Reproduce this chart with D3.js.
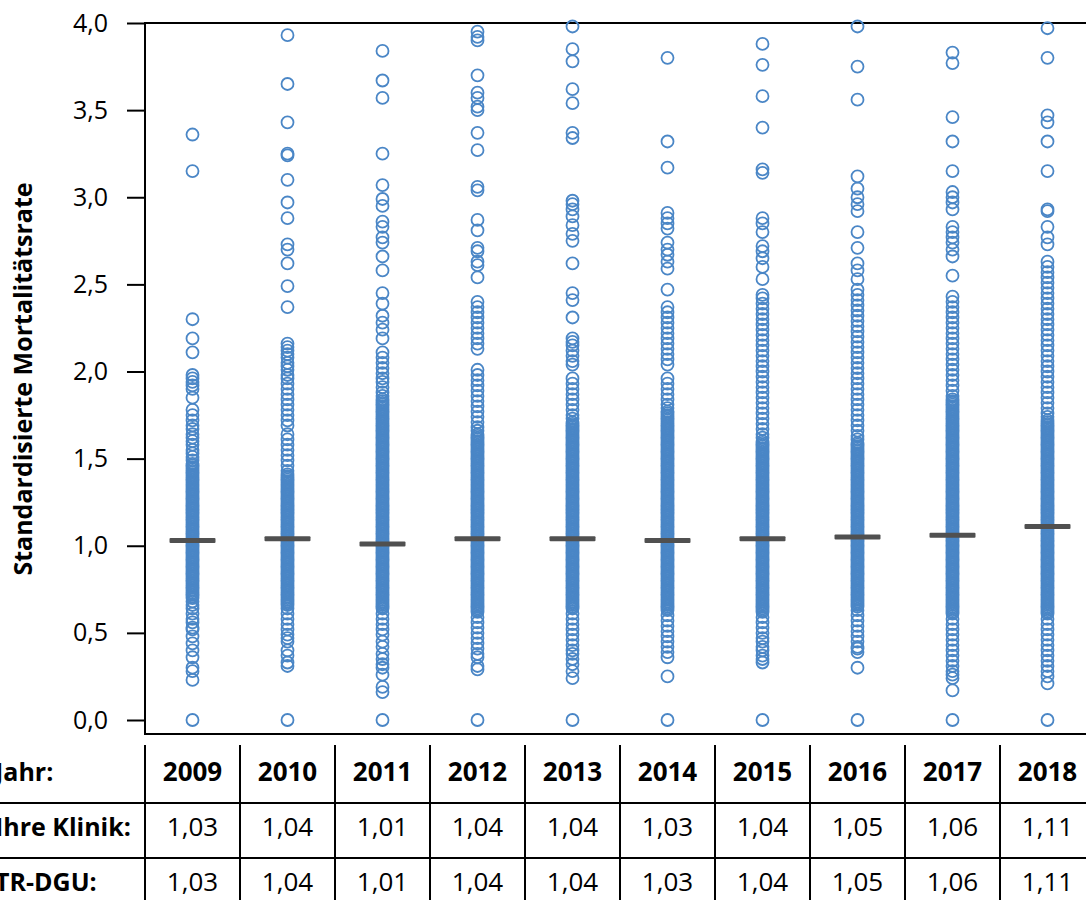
<!DOCTYPE html>
<html>
<head>
<meta charset="utf-8">
<script src="https://cdn.jsdelivr.net/npm/d3@7"></script>
<style>
  body { margin: 0; background: #fff; }
  svg { display: block; font-family: "Open Sans", sans-serif; }
</style>
</head>
<body>
<script>
// years and per-year SMR values
const years = ["2009", "2010", "2011", "2012", "2013", "2014", "2015", "2016", "2017", "2018"];
const klinik = [1.03, 1.04, 1.01, 1.04, 1.04, 1.03, 1.04, 1.05, 1.06, 1.11];
const trdgu = [1.03, 1.04, 1.01, 1.04, 1.04, 1.03, 1.04, 1.05, 1.06, 1.11];
const yTicks = [0, 0.5, 1, 1.5, 2, 2.5, 3, 3.5, 4];

const smr2009 = [3.36, 3.15, 2.30, 2.19, 2.11, 1.98, 1.96, 1.94, 1.92, 1.90, 1.85, 1.78, 1.75, 1.72, 1.69, 1.67, 1.64, 1.62, 1.60, 1.58, 1.55, 1.53, 1.51, 1.49, 1.47,
  1.46, 1.45, 1.44, 1.43, 1.42, 1.41, 1.40, 1.39, 1.38, 1.37, 1.36, 1.35, 1.34, 1.33, 1.32, 1.31, 1.30, 1.29, 1.28, 1.27, 1.26, 1.25, 1.24, 1.23, 1.22, 1.21, 1.20, 1.19, 1.18, 1.17, 1.16, 1.15, 1.14, 1.13, 1.12, 1.11, 1.10, 1.09, 1.08, 1.07, 1.06, 1.05, 1.04, 1.03, 1.02, 1.01, 1.00, 0.99, 0.98, 0.97, 0.96, 0.95, 0.94, 0.93, 0.92, 0.91, 0.90, 0.89, 0.88, 0.87, 0.86, 0.85, 0.84, 0.83, 0.82, 0.81, 0.80, 0.79, 0.78, 0.77, 0.76, 0.75, 0.74, 0.73, 0.72, 0.71, 0.70,
  0.68, 0.66, 0.64, 0.61, 0.58, 0.56, 0.53, 0.52, 0.48, 0.44, 0.40, 0.36, 0.30, 0.28, 0.23, 0.0];
const smr2010 = [3.93, 3.65, 3.43, 3.25, 3.24, 3.10, 2.97, 2.88, 2.73, 2.70, 2.62, 2.49, 2.37, 2.16, 2.14, 2.12, 2.10, 2.08, 2.05, 2.03, 2.01, 1.98, 1.96, 1.93, 1.90, 1.87, 1.84, 1.81, 1.78, 1.75, 1.72, 1.69, 1.64, 1.61, 1.58, 1.55, 1.52, 1.49, 1.46, 1.43, 1.41,
  1.40, 1.39, 1.38, 1.37, 1.36, 1.35, 1.34, 1.33, 1.32, 1.31, 1.30, 1.29, 1.28, 1.27, 1.26, 1.25, 1.24, 1.23, 1.22, 1.21, 1.20, 1.19, 1.18, 1.17, 1.16, 1.15, 1.14, 1.13, 1.12, 1.11, 1.10, 1.09, 1.08, 1.07, 1.06, 1.05, 1.04, 1.03, 1.02, 1.01, 1.00, 0.99, 0.98, 0.97, 0.96, 0.95, 0.94, 0.93, 0.92, 0.91, 0.90, 0.89, 0.88, 0.87, 0.86, 0.85, 0.84, 0.83, 0.82, 0.81, 0.80, 0.79, 0.78, 0.77, 0.76, 0.75, 0.74, 0.73, 0.72, 0.71, 0.70, 0.69, 0.68, 0.67, 0.66,
  0.64, 0.61, 0.58, 0.55, 0.52, 0.49, 0.47, 0.45, 0.40, 0.37, 0.33, 0.31, 0.0];
const smr2011 = [3.84, 3.67, 3.57, 3.25, 3.07, 2.99, 2.95, 2.86, 2.83, 2.77, 2.74, 2.66, 2.58, 2.45, 2.39, 2.32, 2.28, 2.24, 2.19, 2.11, 2.08, 2.05, 2.02, 1.99, 1.96, 1.94, 1.91, 1.88, 1.86,
  1.84, 1.83, 1.82, 1.81, 1.80, 1.79, 1.78, 1.77, 1.76, 1.75, 1.74, 1.73, 1.72, 1.71, 1.70, 1.69, 1.68, 1.67, 1.66, 1.65, 1.64, 1.63, 1.62, 1.61, 1.60, 1.59, 1.58, 1.57, 1.56, 1.55, 1.54, 1.53, 1.52, 1.51, 1.50, 1.49, 1.48, 1.47, 1.46, 1.45, 1.44, 1.43, 1.42, 1.41, 1.40, 1.39, 1.38, 1.37, 1.36, 1.35, 1.34, 1.33, 1.32, 1.31, 1.30, 1.29, 1.28, 1.27, 1.26, 1.25, 1.24, 1.23, 1.22, 1.21, 1.20, 1.19, 1.18, 1.17, 1.16, 1.15, 1.14, 1.13, 1.12, 1.11, 1.10, 1.09, 1.08, 1.07, 1.06, 1.05, 1.04, 1.03, 1.02, 1.01, 1.00, 0.99, 0.98, 0.97, 0.96, 0.95, 0.94, 0.93, 0.92, 0.91, 0.90, 0.89, 0.88, 0.87, 0.86, 0.85, 0.84, 0.83, 0.82, 0.81, 0.80, 0.79, 0.78, 0.77, 0.76, 0.75, 0.74, 0.73, 0.72, 0.71, 0.70, 0.69, 0.68, 0.67, 0.66, 0.65, 0.64,
  0.61, 0.58, 0.55, 0.52, 0.49, 0.45, 0.42, 0.38, 0.35, 0.32, 0.30, 0.26, 0.19, 0.16, 0.0];
const smr2012 = [3.95, 3.92, 3.90, 3.70, 3.60, 3.57, 3.52, 3.50, 3.37, 3.27, 3.06, 3.04, 2.87, 2.81, 2.71, 2.69, 2.63, 2.61, 2.54, 2.40, 2.37, 2.34, 2.31, 2.28, 2.25, 2.22, 2.19, 2.16, 2.13, 2.01, 1.98, 1.95, 1.92, 1.89, 1.86, 1.83, 1.80, 1.77, 1.74, 1.71, 1.68, 1.66,
  1.64, 1.63, 1.62, 1.61, 1.60, 1.59, 1.58, 1.57, 1.56, 1.55, 1.54, 1.53, 1.52, 1.51, 1.50, 1.49, 1.48, 1.47, 1.46, 1.45, 1.44, 1.43, 1.42, 1.41, 1.40, 1.39, 1.38, 1.37, 1.36, 1.35, 1.34, 1.33, 1.32, 1.31, 1.30, 1.29, 1.28, 1.27, 1.26, 1.25, 1.24, 1.23, 1.22, 1.21, 1.20, 1.19, 1.18, 1.17, 1.16, 1.15, 1.14, 1.13, 1.12, 1.11, 1.10, 1.09, 1.08, 1.07, 1.06, 1.05, 1.04, 1.03, 1.02, 1.01, 1.00, 0.99, 0.98, 0.97, 0.96, 0.95, 0.94, 0.93, 0.92, 0.91, 0.90, 0.89, 0.88, 0.87, 0.86, 0.85, 0.84, 0.83, 0.82, 0.81, 0.80, 0.79, 0.78, 0.77, 0.76, 0.75, 0.74, 0.73, 0.72, 0.71, 0.70, 0.69, 0.68, 0.67, 0.66, 0.65, 0.64, 0.63, 0.62,
  0.59, 0.56, 0.53, 0.50, 0.47, 0.44, 0.41, 0.38, 0.36, 0.31, 0.29, 0.0];
const smr2013 = [3.98, 3.85, 3.78, 3.62, 3.54, 3.37, 3.34, 2.98, 2.96, 2.93, 2.89, 2.84, 2.79, 2.75, 2.62, 2.45, 2.41, 2.31, 2.19, 2.17, 2.15, 2.12, 2.09, 2.06, 2.04, 1.96, 1.93, 1.90, 1.87, 1.84, 1.81, 1.78, 1.75, 1.73,
  1.71, 1.70, 1.69, 1.68, 1.67, 1.66, 1.65, 1.64, 1.63, 1.62, 1.61, 1.60, 1.59, 1.58, 1.57, 1.56, 1.55, 1.54, 1.53, 1.52, 1.51, 1.50, 1.49, 1.48, 1.47, 1.46, 1.45, 1.44, 1.43, 1.42, 1.41, 1.40, 1.39, 1.38, 1.37, 1.36, 1.35, 1.34, 1.33, 1.32, 1.31, 1.30, 1.29, 1.28, 1.27, 1.26, 1.25, 1.24, 1.23, 1.22, 1.21, 1.20, 1.19, 1.18, 1.17, 1.16, 1.15, 1.14, 1.13, 1.12, 1.11, 1.10, 1.09, 1.08, 1.07, 1.06, 1.05, 1.04, 1.03, 1.02, 1.01, 1.00, 0.99, 0.98, 0.97, 0.96, 0.95, 0.94, 0.93, 0.92, 0.91, 0.90, 0.89, 0.88, 0.87, 0.86, 0.85, 0.84, 0.83, 0.82, 0.81, 0.80, 0.79, 0.78, 0.77, 0.76, 0.75, 0.74, 0.73, 0.72, 0.71, 0.70, 0.69, 0.68, 0.67, 0.66, 0.65, 0.64,
  0.61, 0.58, 0.55, 0.52, 0.49, 0.46, 0.43, 0.40, 0.38, 0.35, 0.32, 0.28, 0.24, 0.0];
const smr2014 = [3.80, 3.32, 3.17, 2.91, 2.88, 2.85, 2.82, 2.74, 2.70, 2.67, 2.63, 2.59, 2.47, 2.37, 2.34, 2.31, 2.28, 2.25, 2.22, 2.19, 2.16, 2.13, 2.10, 2.07, 2.04, 1.96, 1.93, 1.90, 1.87, 1.84, 1.81, 1.79,
  1.77, 1.76, 1.75, 1.74, 1.73, 1.72, 1.71, 1.70, 1.69, 1.68, 1.67, 1.66, 1.65, 1.64, 1.63, 1.62, 1.61, 1.60, 1.59, 1.58, 1.57, 1.56, 1.55, 1.54, 1.53, 1.52, 1.51, 1.50, 1.49, 1.48, 1.47, 1.46, 1.45, 1.44, 1.43, 1.42, 1.41, 1.40, 1.39, 1.38, 1.37, 1.36, 1.35, 1.34, 1.33, 1.32, 1.31, 1.30, 1.29, 1.28, 1.27, 1.26, 1.25, 1.24, 1.23, 1.22, 1.21, 1.20, 1.19, 1.18, 1.17, 1.16, 1.15, 1.14, 1.13, 1.12, 1.11, 1.10, 1.09, 1.08, 1.07, 1.06, 1.05, 1.04, 1.03, 1.02, 1.01, 1.00, 0.99, 0.98, 0.97, 0.96, 0.95, 0.94, 0.93, 0.92, 0.91, 0.90, 0.89, 0.88, 0.87, 0.86, 0.85, 0.84, 0.83, 0.82, 0.81, 0.80, 0.79, 0.78, 0.77, 0.76, 0.75, 0.74, 0.73, 0.72, 0.71, 0.70, 0.69, 0.68, 0.67, 0.66, 0.65, 0.64, 0.63,
  0.60, 0.57, 0.54, 0.51, 0.48, 0.45, 0.42, 0.39, 0.36, 0.25, 0.0];
const smr2015 = [3.88, 3.76, 3.58, 3.40, 3.16, 3.14, 2.88, 2.85, 2.80, 2.72, 2.69, 2.65, 2.60, 2.53, 2.44, 2.42, 2.39, 2.36, 2.33, 2.30, 2.27, 2.24, 2.21, 2.18, 2.15, 2.12, 2.09, 2.06, 2.03, 2.00, 1.97, 1.94, 1.91, 1.88, 1.85, 1.82, 1.79, 1.76, 1.73, 1.70, 1.67, 1.64, 1.62,
  1.60, 1.59, 1.58, 1.57, 1.56, 1.55, 1.54, 1.53, 1.52, 1.51, 1.50, 1.49, 1.48, 1.47, 1.46, 1.45, 1.44, 1.43, 1.42, 1.41, 1.40, 1.39, 1.38, 1.37, 1.36, 1.35, 1.34, 1.33, 1.32, 1.31, 1.30, 1.29, 1.28, 1.27, 1.26, 1.25, 1.24, 1.23, 1.22, 1.21, 1.20, 1.19, 1.18, 1.17, 1.16, 1.15, 1.14, 1.13, 1.12, 1.11, 1.10, 1.09, 1.08, 1.07, 1.06, 1.05, 1.04, 1.03, 1.02, 1.01, 1.00, 0.99, 0.98, 0.97, 0.96, 0.95, 0.94, 0.93, 0.92, 0.91, 0.90, 0.89, 0.88, 0.87, 0.86, 0.85, 0.84, 0.83, 0.82, 0.81, 0.80, 0.79, 0.78, 0.77, 0.76, 0.75, 0.74, 0.73, 0.72, 0.71, 0.70, 0.69, 0.68, 0.67, 0.66, 0.65, 0.64, 0.63, 0.62,
  0.59, 0.56, 0.53, 0.50, 0.47, 0.45, 0.42, 0.40, 0.37, 0.35, 0.33, 0.0];
const smr2016 = [3.98, 3.75, 3.56, 3.12, 3.05, 3.00, 2.96, 2.92, 2.80, 2.71, 2.62, 2.58, 2.53, 2.47, 2.44, 2.41, 2.38, 2.35, 2.32, 2.29, 2.26, 2.23, 2.20, 2.17, 2.14, 2.11, 2.08, 2.05, 2.02, 1.99, 1.96, 1.93, 1.90, 1.87, 1.84, 1.81, 1.78, 1.75, 1.72, 1.69, 1.66, 1.63, 1.61,
  1.59, 1.58, 1.57, 1.56, 1.55, 1.54, 1.53, 1.52, 1.51, 1.50, 1.49, 1.48, 1.47, 1.46, 1.45, 1.44, 1.43, 1.42, 1.41, 1.40, 1.39, 1.38, 1.37, 1.36, 1.35, 1.34, 1.33, 1.32, 1.31, 1.30, 1.29, 1.28, 1.27, 1.26, 1.25, 1.24, 1.23, 1.22, 1.21, 1.20, 1.19, 1.18, 1.17, 1.16, 1.15, 1.14, 1.13, 1.12, 1.11, 1.10, 1.09, 1.08, 1.07, 1.06, 1.05, 1.04, 1.03, 1.02, 1.01, 1.00, 0.99, 0.98, 0.97, 0.96, 0.95, 0.94, 0.93, 0.92, 0.91, 0.90, 0.89, 0.88, 0.87, 0.86, 0.85, 0.84, 0.83, 0.82, 0.81, 0.80, 0.79, 0.78, 0.77, 0.76, 0.75, 0.74, 0.73, 0.72, 0.71, 0.70, 0.69, 0.68, 0.67, 0.66, 0.65,
  0.63, 0.60, 0.57, 0.54, 0.51, 0.48, 0.45, 0.42, 0.41, 0.39, 0.30, 0.0];
const smr2017 = [3.83, 3.77, 3.46, 3.32, 3.15, 3.03, 3.00, 2.97, 2.93, 2.83, 2.80, 2.77, 2.74, 2.70, 2.66, 2.55, 2.43, 2.40, 2.37, 2.34, 2.31, 2.28, 2.25, 2.22, 2.19, 2.16, 2.13, 2.10, 2.07, 2.04, 2.01, 1.98, 1.95, 1.92, 1.89, 1.86,
  1.84, 1.83, 1.82, 1.81, 1.80, 1.79, 1.78, 1.77, 1.76, 1.75, 1.74, 1.73, 1.72, 1.71, 1.70, 1.69, 1.68, 1.67, 1.66, 1.65, 1.64, 1.63, 1.62, 1.61, 1.60, 1.59, 1.58, 1.57, 1.56, 1.55, 1.54, 1.53, 1.52, 1.51, 1.50, 1.49, 1.48, 1.47, 1.46, 1.45, 1.44, 1.43, 1.42, 1.41, 1.40, 1.39, 1.38, 1.37, 1.36, 1.35, 1.34, 1.33, 1.32, 1.31, 1.30, 1.29, 1.28, 1.27, 1.26, 1.25, 1.24, 1.23, 1.22, 1.21, 1.20, 1.19, 1.18, 1.17, 1.16, 1.15, 1.14, 1.13, 1.12, 1.11, 1.10, 1.09, 1.08, 1.07, 1.06, 1.05, 1.04, 1.03, 1.02, 1.01, 1.00, 0.99, 0.98, 0.97, 0.96, 0.95, 0.94, 0.93, 0.92, 0.91, 0.90, 0.89, 0.88, 0.87, 0.86, 0.85, 0.84, 0.83, 0.82, 0.81, 0.80, 0.79, 0.78, 0.77, 0.76, 0.75, 0.74, 0.73, 0.72, 0.71, 0.70, 0.69, 0.68, 0.67, 0.66, 0.65, 0.64, 0.63, 0.62, 0.61,
  0.58, 0.55, 0.52, 0.49, 0.46, 0.43, 0.40, 0.37, 0.34, 0.31, 0.28, 0.26, 0.24, 0.17, 0.0];
const smr2018 = [3.97, 3.80, 3.47, 3.43, 3.32, 3.15, 2.93, 2.92, 2.83, 2.77, 2.73, 2.63, 2.60, 2.57, 2.54, 2.51, 2.48, 2.45, 2.42, 2.39, 2.36, 2.33, 2.30, 2.27, 2.24, 2.21, 2.18, 2.15, 2.12, 2.09, 2.06, 2.03, 2.00, 1.97, 1.94, 1.91, 1.88, 1.85, 1.82, 1.79, 1.76, 1.74,
  1.72, 1.71, 1.70, 1.69, 1.68, 1.67, 1.66, 1.65, 1.64, 1.63, 1.62, 1.61, 1.60, 1.59, 1.58, 1.57, 1.56, 1.55, 1.54, 1.53, 1.52, 1.51, 1.50, 1.49, 1.48, 1.47, 1.46, 1.45, 1.44, 1.43, 1.42, 1.41, 1.40, 1.39, 1.38, 1.37, 1.36, 1.35, 1.34, 1.33, 1.32, 1.31, 1.30, 1.29, 1.28, 1.27, 1.26, 1.25, 1.24, 1.23, 1.22, 1.21, 1.20, 1.19, 1.18, 1.17, 1.16, 1.15, 1.14, 1.13, 1.12, 1.11, 1.10, 1.09, 1.08, 1.07, 1.06, 1.05, 1.04, 1.03, 1.02, 1.01, 1.00, 0.99, 0.98, 0.97, 0.96, 0.95, 0.94, 0.93, 0.92, 0.91, 0.90, 0.89, 0.88, 0.87, 0.86, 0.85, 0.84, 0.83, 0.82, 0.81, 0.80, 0.79, 0.78, 0.77, 0.76, 0.75, 0.74, 0.73, 0.72, 0.71, 0.70, 0.69, 0.68, 0.67, 0.66, 0.65, 0.64, 0.63, 0.62, 0.61,
  0.58, 0.55, 0.52, 0.49, 0.46, 0.43, 0.40, 0.37, 0.34, 0.31, 0.28, 0.25, 0.21, 0.0];

const smr = [smr2009, smr2010, smr2011, smr2012, smr2013, smr2014, smr2015, smr2016, smr2017, smr2018];

const width = 1086;
const height = 900;
const left = 145;
const colW = 95;

const svg = d3.select("body").append("svg")
  .attr("width", width)
  .attr("height", height);

const x = d3.scaleBand().domain(years).range([left, left + colW * years.length]);
const y = d3.scaleLinear().domain([0, 4]).range([720, 23]);

// y axis
const yAxis = svg.append("g")
  .attr("transform", `translate(${left},0)`)
  .call(d3.axisLeft(y).tickValues(yTicks).tickSize(18).tickPadding(19)
    .tickFormat(d => d.toFixed(1).replace(".", ",")));
yAxis.select(".domain").remove();
yAxis.selectAll(".tick line").attr("stroke", "#000").attr("stroke-width", 2);
yAxis.selectAll(".tick text")
  .attr("fill", "#000")
  .style("font-size", "25px")
  .style("font-family", "'Open Sans', sans-serif");

// plot frame: left, top, bottom
svg.append("line").attr("x1", left).attr("x2", left).attr("y1", 22).attr("y2", 735)
  .attr("stroke", "#000").attr("stroke-width", 2);
svg.append("line").attr("x1", left).attr("x2", width).attr("y1", y(4)).attr("y2", y(4))
  .attr("stroke", "#000").attr("stroke-width", 2);
svg.append("line").attr("x1", left).attr("x2", width).attr("y1", 734).attr("y2", 734)
  .attr("stroke", "#000").attr("stroke-width", 2);

svg.append("text")
  .attr("transform", `translate(32,379) rotate(-90)`)
  .attr("text-anchor", "middle")
  .style("font-size", "25px")
  .style("font-weight", "bold")
  .text("Standardisierte Mortalitätsrate");

// points
const pts = [];
smr.forEach((vals, i) => vals.forEach(v => pts.push({ year: years[i], v })));

svg.append("g").selectAll("circle")
  .data(pts)
  .join("circle")
  .attr("cx", d => x(d.year) + x.bandwidth() / 2)
  .attr("cy", d => y(d.v))
  .attr("r", 6)
  .attr("fill", "none")
  .attr("stroke", "#4A86C6")
  .attr("stroke-width", 1.8);

// mean bars
svg.append("g").selectAll("rect")
  .data(years)
  .join("rect")
  .attr("x", d => x(d) + x.bandwidth() / 2 - 23)
  .attr("y", (d, i) => y(klinik[i]) - 2.5)
  .attr("width", 46)
  .attr("height", 5)
  .attr("rx", 1)
  .attr("fill", "#505050");

// table below
const rowY = [772, 827, 882];
const table = svg.append("g");

table.selectAll(".hline")
  .data([803, 858])
  .join("line")
  .attr("x1", 0).attr("x2", width)
  .attr("y1", d => d).attr("y2", d => d)
  .attr("stroke", "#000").attr("stroke-width", 2);

table.selectAll(".vline")
  .data(d3.range(years.length + 1))
  .join("line")
  .attr("x1", i => left + colW * i).attr("x2", i => left + colW * i)
  .attr("y1", 745).attr("y2", height)
  .attr("stroke", "#000").attr("stroke-width", 2);

const labels = ["Jahr:", "Ihre Klinik:", "TR-DGU:"];
table.selectAll(".rowlabel")
  .data(labels)
  .join("text")
  .attr("x", -5)
  .attr("y", (d, i) => rowY[i])
  .attr("dy", "0.35em")
  .style("font-size", "25px")
  .style("font-weight", "bold")
  .text(d => d);

const rows = [years, klinik.map(v => v.toFixed(2).replace(".", ",")), trdgu.map(v => v.toFixed(2).replace(".", ","))];
rows.forEach((row, r) => {
  table.append("g").selectAll("text")
    .data(row)
    .join("text")
    .attr("x", (d, i) => x(years[i]) + x.bandwidth() / 2)
    .attr("y", rowY[r])
    .attr("dy", "0.35em")
    .attr("text-anchor", "middle")
    .style("font-size", "26px")
    .style("font-weight", r === 0 ? "bold" : "normal")
    .text(d => d);
});
</script>
</body>
</html>
